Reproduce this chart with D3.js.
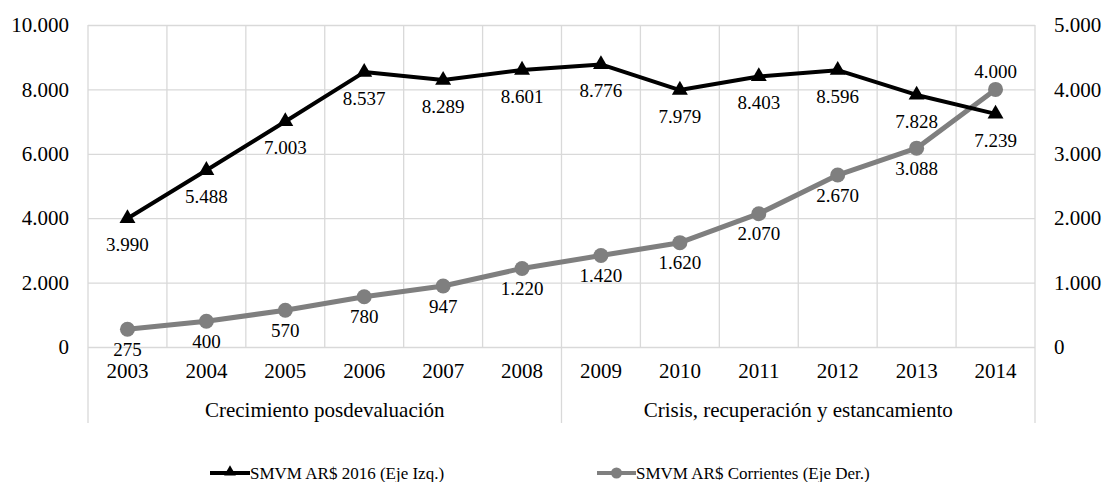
<!DOCTYPE html>
<html>
<head>
<meta charset="utf-8">
<script src="https://cdn.jsdelivr.net/npm/d3@7"></script>
<style>
  body { margin: 0; background: #fff; font-family: "Liberation Serif", serif; }
  svg, svg g, svg text { font-family: "Liberation Serif", serif !important; }
</style>
</head>
<body>
<svg id="chart" width="1105" height="482" font-family="Liberation Serif"></svg>
<script>
// Datos del gráfico
const years = ['2003', '2004', '2005', '2006', '2007', '2008', '2009', '2010', '2011', '2012', '2013', '2014'];
const smvm2016 = [3990, 5488, 7003, 8537, 8289, 8601, 8776, 7979, 8403, 8596, 7828, 7239];
const smvmCorrientes = [275, 400, 570, 780, 947, 1220, 1420, 1620, 2070, 2670, 3088, 4000];
const leftTicks = [0, 2000, 4000, 6000, 8000, 10000];
const rightTicks = [0, 1000, 2000, 3000, 4000, 5000];
const groups = [
  { label: 'Crecimiento posdevaluación', from: '2003', to: '2008' },
  { label: 'Crisis, recuperación y estancamiento', from: '2009', to: '2014' }
];
const seriesNames = ['SMVM AR$ 2016 (Eje Izq.)', 'SMVM AR$ Corrientes (Eje Der.)'];

const plot = { left: 88, right: 1035, top: 25, bottom: 347 };

const svg = d3.select('#chart');

const x = d3.scaleBand().domain(years).range([plot.left, plot.right]).padding(0);
const yL = d3.scaleLinear().domain([0, 10000]).range([plot.bottom, plot.top]);
const yR = d3.scaleLinear().domain([0, 5000]).range([plot.bottom, plot.top]);
const fmt = (v) => d3.format(',')(v).replace(/,/g, '.');

const gridColor = '#d9d9d9';

// Líneas horizontales de la cuadrícula
svg.append('g')
  .attr('transform', `translate(${plot.left},0)`)
  .call(d3.axisLeft(yL).tickValues(leftTicks).tickSize(-(plot.right - plot.left)).tickFormat(''))
  .call((g) => g.select('.domain').remove())
  .call((g) => g.selectAll('.tick line').attr('stroke', gridColor).attr('stroke-width', 1.3));

// Líneas verticales (límites de categoría)
const groupEdges = new Set([plot.left, plot.right]);
groups.forEach((gr) => { groupEdges.add(x(gr.from)); groupEdges.add(x(gr.to) + x.bandwidth()); });
const edges = years.map((y) => x(y)).concat([plot.right]);
svg.append('g').selectAll('line')
  .data(edges)
  .join('line')
  .attr('x1', (d) => d).attr('x2', (d) => d)
  .attr('y1', plot.top)
  .attr('y2', (d) => (groupEdges.has(d) ? 423 : plot.bottom))
  .attr('stroke', gridColor)
  .attr('stroke-width', 1.3);

// Etiquetas del eje izquierdo
svg.append('g')
  .attr('transform', `translate(${plot.left},0)`)
  .call(d3.axisLeft(yL).tickValues(leftTicks).tickSize(0).tickPadding(19).tickFormat(fmt))
  .call((g) => g.select('.domain').remove())
  .call((g) => g.selectAll('text').attr('font-size', 21));

// Etiquetas del eje derecho
svg.append('g')
  .attr('transform', `translate(${plot.right},0)`)
  .call(d3.axisRight(yR).tickValues(rightTicks).tickSize(0).tickPadding(19).tickFormat(fmt))
  .call((g) => g.select('.domain').remove())
  .call((g) => g.selectAll('text').attr('font-size', 21));

// Años
svg.append('g')
  .attr('transform', `translate(0,${plot.bottom})`)
  .call(d3.axisBottom(x).tickSize(0).tickPadding(16))
  .call((g) => g.select('.domain').remove())
  .call((g) => g.selectAll('text').attr('font-size', 21));

// Grupos de períodos
svg.append('g').selectAll('text')
  .data(groups)
  .join('text')
  .attr('x', (d) => (x(d.from) + x(d.to) + x.bandwidth()) / 2)
  .attr('y', 410)
  .attr('dy', '0.35em')
  .attr('text-anchor', 'middle')
  .attr('font-size', 21)
  .text((d) => d.label);

// Serie gris (eje derecho)
const grayColor = '#7f7f7f';
const cx = (d, i) => x(years[i]) + x.bandwidth() / 2;
svg.append('path')
  .datum(smvmCorrientes)
  .attr('fill', 'none')
  .attr('stroke', grayColor)
  .attr('stroke-width', 5)
  .attr('stroke-linejoin', 'round')
  .attr('d', d3.line().x(cx).y((d) => yR(d)));
svg.append('g').selectAll('circle')
  .data(smvmCorrientes)
  .join('circle')
  .attr('cx', cx)
  .attr('cy', (d) => yR(d))
  .attr('r', 7.5)
  .attr('fill', grayColor);

// Serie negra (eje izquierdo)
svg.append('path')
  .datum(smvm2016)
  .attr('fill', 'none')
  .attr('stroke', '#000')
  .attr('stroke-width', 4)
  .attr('stroke-linejoin', 'round')
  .attr('d', d3.line().x(cx).y((d) => yL(d)));
const tri = d3.symbol().type(d3.symbolTriangle).size(110);
svg.append('g').selectAll('path')
  .data(smvm2016)
  .join('path')
  .attr('transform', (d, i) => `translate(${cx(d, i)},${yL(d)})`)
  .attr('d', tri)
  .attr('fill', '#000');

// Etiquetas de datos
svg.append('g').selectAll('text')
  .data(smvm2016)
  .join('text')
  .attr('x', cx)
  .attr('y', (d) => yL(d) + 26)
  .attr('dy', '0.35em')
  .attr('text-anchor', 'middle')
  .attr('font-size', 19)
  .text(fmt);

svg.append('g').selectAll('text')
  .data(smvmCorrientes)
  .join('text')
  .attr('x', cx)
  .attr('y', (d, i) => (i === smvmCorrientes.length - 1 ? yR(d) - 18 : yR(d) + 20))
  .attr('dy', '0.35em')
  .attr('text-anchor', 'middle')
  .attr('font-size', 19)
  .text(fmt);

// Leyenda
const legend = svg.append('g').attr('transform', 'translate(0,473)');
const l1 = legend.append('g').attr('transform', 'translate(210,0)');
l1.append('line').attr('x1', 0).attr('x2', 40).attr('stroke', '#000').attr('stroke-width', 4);
l1.append('path').attr('transform', 'translate(20,-1)').attr('d', d3.symbol().type(d3.symbolTriangle).size(60)).attr('fill', '#000');
l1.append('text').attr('x', 40).attr('dy', '0.35em').attr('font-size', 17).text(seriesNames[0]);

const l2 = legend.append('g').attr('transform', 'translate(597,0)');
l2.append('line').attr('x1', 0).attr('x2', 39).attr('stroke', grayColor).attr('stroke-width', 4);
l2.append('circle').attr('cx', 19.5).attr('r', 5.5).attr('fill', grayColor);
l2.append('text').attr('x', 39).attr('dy', '0.35em').attr('font-size', 17).text(seriesNames[1]);

// Los ejes de d3 fijan sans-serif: se quita para heredar la fuente serif
svg.selectAll('g').attr('font-family', null);
svg.selectAll('text').attr('font-family', 'Liberation Serif').attr('fill', '#000');
</script>
</body>
</html>
